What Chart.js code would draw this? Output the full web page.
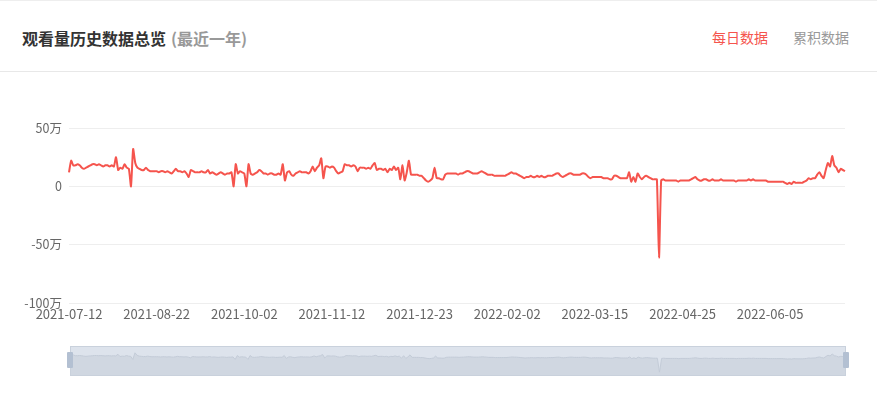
<!DOCTYPE html>
<html lang="zh">
<head>
    <meta charset="UTF-8">
    <title>观看量历史数据总览</title>
    <script src="https://cdn.jsdelivr.net/npm/chart.js"></script>
    <style>
        body { margin: 0; background: #fff; font-family: "Noto Sans CJK SC", "Noto Sans", sans-serif; }
        .card { position: relative; width: 877px; height: 410px; border-top: 1px solid #eee; box-sizing: border-box; }
        .header { position: absolute; left: 0; top: 0; width: 877px; height: 71px; border-bottom: 1px solid #e8e8e8; box-sizing: border-box; }
        .title { position: absolute; left: 22px; top: 25px; font-size: 16px; font-weight: bold; color: #333; }
        .title span { color: #999; margin-left: 5px; }
        .tab { position: absolute; top: 26px; font-size: 14px; }
        .main { position: absolute; left: 0; top: 100px; width: 877px; height: 230px; }
        .slider { position: absolute; left: 70px; top: 345px; width: 776px; height: 30px; background: #dde3ec; border: 1px solid #c9d1dc; box-sizing: border-box; }
        .handle { position: absolute; top: 351px; width: 6px; height: 16px; background: #b3c0d2; border-radius: 1px; }
    </style>
</head>
<body>
<div class="card">
    <div class="header">
        <div class="title">观看量历史数据总览<span>(最近一年)</span></div>
        <div class="tab" style="left:712px;color:#f5544d;">每日数据</div>
        <div class="tab" style="left:793px;color:#999;">累积数据</div>
    </div>
    <div class="main"><canvas id="lineChart"></canvas></div>
    <div class="slider"><canvas id="shadowChart"></canvas></div>
    <div class="handle" style="left:67px;"></div>
    <div class="handle" style="left:843px;"></div>
</div>

<script>
// daily views, unit: 万, starting 2021-07-12
const startDate = '2021-07-12';
const dailyViews = [
    12, 22, 18, 18, 19, 18, 16, 15, 16, 17,
    18, 19, 19, 18, 19, 18, 17, 18, 18, 17,
    18, 17, 25, 14, 16, 15, 19, 16, 15, 0,
    32, 20, 16, 15, 14, 14, 16, 14, 13, 13,
    13, 13, 12, 13, 13, 12, 13, 12, 11, 13,
    15, 13, 13, 12, 13, 11, 8, 14, 13, 12,
    12, 12, 13, 12, 12, 14, 11, 12, 11, 10,
    11, 12, 11, 10, 11, 11, 12, 0, 19, 11,
    13, 12, 11, 0, 19, 11, 10, 11, 12, 14,
    13, 11, 11, 10, 11, 11, 10, 10, 11, 10,
    19, 5, 12, 13, 10, 9, 11, 12, 13, 12,
    12, 12, 11, 13, 17, 13, 16, 18, 24, 7,
    17, 17, 16, 17, 16, 13, 11, 12, 13, 19,
    18, 18, 17, 18, 17, 13, 16, 16, 16, 15,
    16, 15, 18, 20, 14, 15, 15, 14, 15, 12,
    15, 14, 17, 14, 16, 6, 18, 5, 12, 22,
    10, 10, 10, 10, 9, 9, 7, 5, 4, 5,
    7, 16, 7, 7, 6, 6, 10, 11, 11, 11,
    11, 11, 10, 11, 11, 12, 13, 13, 12, 11,
    11, 11, 12, 13, 12, 11, 10, 10, 10, 9,
    9, 9, 9, 9, 9, 10, 11, 12, 11, 11,
    10, 9, 8, 7, 8, 8, 9, 8, 8, 9,
    8, 9, 8, 8, 9, 9, 9, 10, 11, 11,
    9, 8, 9, 10, 11, 11, 10, 10, 10, 10,
    11, 11, 10, 8, 7, 8, 8, 8, 8, 8,
    7, 7, 7, 6, 6, 9, 9, 8, 7, 7,
    7, 7, 12, 4, 8, 4, 11, 8, 6, 8,
    9, 8, 7, 6, 6, 6, -61, 5, 6, 5,
    5, 5, 5, 5, 5, 4, 5, 5, 5, 5,
    5, 6, 7, 8, 6, 5, 5, 6, 6, 5,
    5, 6, 5, 5, 5, 6, 5, 5, 5, 5,
    5, 5, 4, 5, 5, 5, 5, 5, 6, 5,
    6, 5, 5, 5, 5, 5, 5, 4, 4, 4,
    4, 4, 4, 4, 4, 3, 2, 3, 2, 4,
    3, 3, 3, 3, 4, 5, 7, 6, 7, 7,
    10, 12, 9, 7, 14, 20, 17, 26, 18, 16,
    12, 15, 14, 13
];
const yTicks = [50, 0, -50, -100];
const labelStep = 41;

// one category per day
const dates = [];
const d0 = new Date(startDate + 'T00:00:00Z');
for (let i = 0; i < dailyViews.length; i++) {
    const d = new Date(d0.getTime() + i * 86400000);
    dates.push(d.toISOString().slice(0, 10));
}

const lineColor = '#f5544d';

new Chart(document.getElementById('lineChart'), {
    type: 'line',
    data: {
        labels: dates,
        datasets: [{
            data: dailyViews,
            borderColor: lineColor,
            borderWidth: 2,
            pointRadius: 0,
            tension: 0.2,
            fill: false
        }]
    },
    options: {
        responsive: true,
        maintainAspectRatio: false,
        animation: false,
        layout: { padding: { top: 27, right: 32, bottom: 0, left: 0 } },
        plugins: { legend: { display: false }, tooltip: { enabled: false } },
        scales: {
            x: {
                grid: { display: false, drawTicks: false },
                border: { display: false },
                afterFit: s => { s.height = 28; },
                ticks: {
                    autoSkip: false,
                    maxRotation: 0,
                    padding: 3,
                    color: '#666',
                    font: { size: 13, family: '"Noto Sans CJK SC", sans-serif' },
                    callback: function (v, i) { return i % labelStep === 0 ? dates[i] : ''; }
                }
            },
            y: {
                min: Math.min(...yTicks),
                max: Math.max(...yTicks),
                afterFit: s => { s.width = 69; },
                afterBuildTicks: s => { s.ticks = yTicks.map(v => ({ value: v })); },
                grid: { color: '#eeeeee', drawTicks: false },
                border: { display: false },
                ticks: {
                    padding: 7,
                    color: '#666',
                    font: { size: 12.5, family: '"Noto Sans CJK SC", sans-serif' },
                    callback: v => v === 0 ? '0' : v + '万'
                }
            }
        }
    }
});

// data shadow inside the zoom slider
new Chart(document.getElementById('shadowChart'), {
    type: 'line',
    data: {
        labels: dates,
        datasets: [{
            data: dailyViews,
            borderColor: '#c3cbd7',
            borderWidth: 1,
            backgroundColor: '#d0d7e1',
            pointRadius: 0,
            fill: 'start'
        }]
    },
    options: {
        responsive: true,
        maintainAspectRatio: false,
        animation: false,
        layout: { padding: 0 },
        plugins: { legend: { display: false }, tooltip: { enabled: false } },
        scales: {
            x: { display: false, offset: false },
            y: { display: false, min: -75, max: 60 }
        }
    }
});
</script>
</body>
</html>
